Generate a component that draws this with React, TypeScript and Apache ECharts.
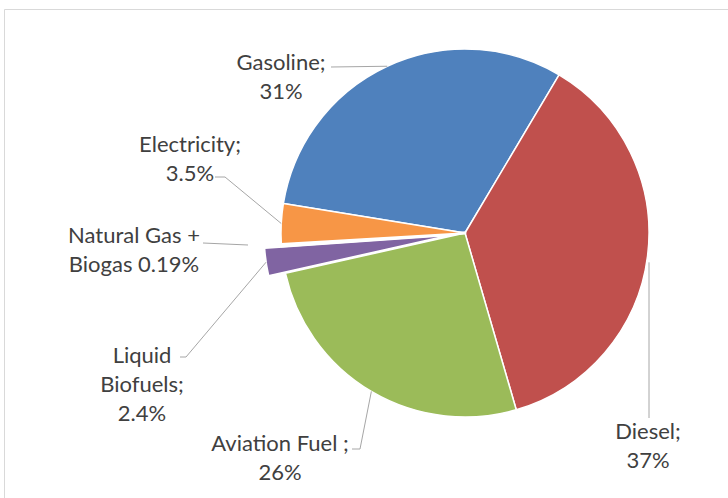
import React, { useEffect, useRef } from "react";
import * as echarts from "echarts";

const categories = ["Gasoline", "Diesel", "Aviation Fuel", "Liquid Biofuels", "Natural Gas + Biogas", "Electricity"];
const values = [31, 37, 26, 2.4, 0.19, 3.5];
const labelNames = ["Gasoline;", "Diesel;", "Aviation Fuel ;", "Liquid\nBiofuels;", "Natural Gas +\nBiogas", "Electricity;"];
const labelSeparators = ["\n", "\n", "\n", "\n", " ", "\n"];
const colors = ["#4F81BD", "#C0504D", "#9BBB59", "#8064A2", "#4BACC6", "#F79646"];
const explodedIndex = 3;

// label centres (annotation layout)
const labelPos = [
  [281, 76],
  [648, 445],
  [280, 457],
  [142, 383],
  [134, 249],
  [190, 158],
];

const CENTER = [465, 233];
const RADIUS = 184;
const OFFSET = 17;

export default function App() {
  const ref = useRef<HTMLDivElement>(null);
  useEffect(() => {
    if (!ref.current) return;
    const chart = echarts.init(ref.current, undefined, { renderer: "svg" });
    const pieData = categories.map((name, i) => ({
      name,
      value: values[i],
      selected: i === explodedIndex,
      itemStyle: {
        color: colors[i],
        borderColor: "#ffffff",
        borderWidth: i === 4 ? 3 : 1.5,
      },
    }));
    const labelData = categories.map((name, i) => ({
      name,
      value: values[i],
      itemStyle: { color: "rgba(0,0,0,0)", borderWidth: 0 },
    }));
    chart.setOption({
      animation: false,
      graphic: [
        {
          type: "rect",
          shape: { x: 4.5, y: 9.5, width: 760, height: 520 },
          style: { fill: "none", stroke: "#d9d9d9", lineWidth: 1 },
          silent: true,
        },
      ],
      series: [
        {
          type: "pie",
          center: CENTER,
          radius: RADIUS,
          startAngle: 170.75,
          clockwise: true,
          selectedMode: "multiple",
          selectedOffset: OFFSET,
          emphasis: { disabled: true },
          silent: true,
          data: pieData,
          label: { show: false },
          labelLine: { show: false },
        },
        {
          type: "pie",
          center: CENTER,
          radius: RADIUS,
          startAngle: 170.75,
          clockwise: true,
          selectedMode: false,
          silent: true,
          emphasis: { disabled: true },
          z: 3,
          data: labelData,
          label: {
            show: true,
            position: "outside",
            color: "#404040",
            fontFamily: "Lato",
            fontSize: 22,
            lineHeight: 29,
            align: "center",
            width: 220,
            overflow: "none",
            formatter: (p: any) =>
              `${labelNames[p.dataIndex]}${labelSeparators[p.dataIndex]}${values[p.dataIndex]}%`,
          },
          labelLine: {
            show: true,
            lineStyle: { color: "#a6a6a6", width: 1 },
          },
          labelLayout: (params: any) => {
            const i = params.dataIndex;
            let p0 = params.labelLinePoints ? params.labelLinePoints[0] : [0, 0];
            if (i === explodedIndex) {
              const dx = p0[0] - CENTER[0];
              const dy = p0[1] - CENTER[1];
              const d = Math.sqrt(dx * dx + dy * dy) || 1;
              p0 = [p0[0] + (dx / d) * OFFSET, p0[1] + (dy / d) * OFFSET];
            }
            let pts: number[][];
            switch (i) {
              case 0:
                pts = [p0, [331, 67], [331, 67]];
                break;
              case 1:
                pts = [[649, p0[1] + 6], [649, 418], [649, 418]];
                break;
              case 2:
                pts = [p0, [360, 449], [352, 449]];
                break;
              case 3:
                pts = [p0, [186, 357], [180, 357]];
                break;
              case 4:
                pts = [[248, 245], [203, 243], [203, 243]];
                break;
              default:
                pts = [p0, [225, 177], [215, 177]];
            }
            return {
              x: labelPos[i][0],
              y: labelPos[i][1],
              align: "center",
              verticalAlign: "middle",
              labelLinePoints: pts,
            };
          },
        },
      ],
    });
    return () => chart.dispose();
  }, []);
  return (
    <div
      ref={ref}
      style={{ position: "fixed", left: 0, top: 0, width: 728, height: 498, background: "#fff" }}
    />
  );
}
